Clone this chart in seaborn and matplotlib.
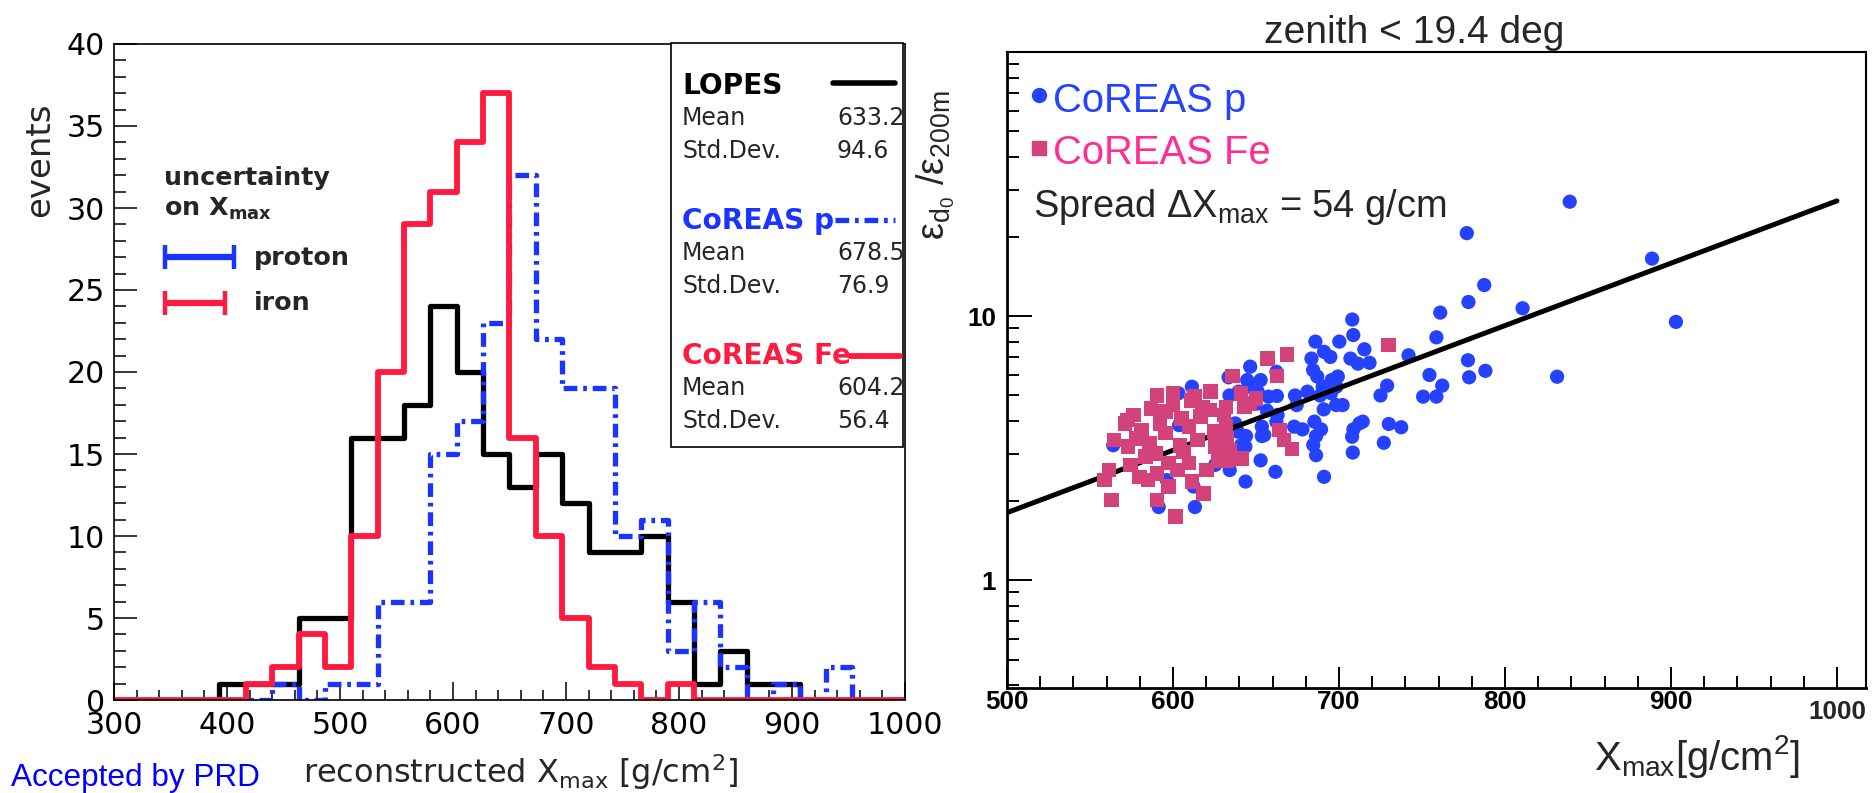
import numpy as np
import pandas as pd
import matplotlib
matplotlib.use("Agg")
import matplotlib.pyplot as plt
from matplotlib.lines import Line2D
from matplotlib.patches import Rectangle
from matplotlib.ticker import MultipleLocator, LogLocator, NullFormatter, FixedLocator
import seaborn as sns

# ---------------------------------------------------------------- data
# reconstructed Xmax histograms: 30 bins between 300 and 1000 g/cm^2
hist_range = (300, 1000)
n_bins = 30
lopes_counts = [0, 0, 0, 0, 1, 1, 1, 5, 5, 16, 16, 18, 24, 20, 15,
                13, 15, 12, 9, 9, 10, 6, 1, 3, 1, 1, 0, 0, 0, 0]
proton_counts = [0, 0, 0, 0, 0, 0, 1, 0, 1, 1, 6, 6, 15, 17, 23,
                 32, 22, 19, 19, 10, 11, 3, 6, 2, 0, 1, 0, 2, 0, 0]
iron_counts = [0, 0, 0, 0, 0, 1, 2, 4, 2, 10, 20, 29, 31, 34, 37,
               16, 10, 5, 2, 1, 0, 1, 0, 0, 0, 0, 0, 0, 0, 0]

stat_names = ["LOPES", "CoREAS p", "CoREAS Fe"]
stat_means = ["633.2", "678.5", "604.2"]
stat_stds = ["94.6", "76.9", "56.4"]

# Xmax uncertainty markers (centre, half width, height in events)
unc_names = ["proton", "iron"]
unc_center = [375.4, 371.5]
unc_halfwidth = [30.4, 26.5]
unc_level = [27.0, 24.2]

# energy-fluence ratio vs Xmax (zenith < 19.4 deg)
p_xmax = [839, 777, 888.6, 787.5, 778, 761, 810.6, 903, 708, 708.6,
          685.8, 700.2, 715.3, 691, 694.8, 741.9, 758.7, 683.4, 706.9, 711.4,
          718.4, 646.5, 777.7, 778.4, 788.2, 831.4, 754.5, 762.2, 729, 725,
          750.7, 758.7, 684.4, 686.9, 662.3, 652.8, 644.7, 633.5, 611.4, 695.6,
          698.4, 681, 688.6, 695.2, 698.3, 702.2, 690.8, 674.5, 662.6, 657.6,
          651, 650, 663, 656.6, 712.3, 708.7, 730, 737.5, 727, 707.9,
          708.3, 673, 678, 685.2, 689.2, 686.2, 684.5, 686.2, 653.5, 644,
          643.6, 639, 603.7, 634, 673.5, 714.3, 691, 661.7, 643.7, 634.2,
          641, 652.8, 637.5, 653.5, 662.3, 613.2, 612.4, 591.4, 596.3, 564,
          625.4, 639.5, 603.3, 655, 699.3, 690.2, 645.4]
p_ratio = [27.1, 20.6, 16.5, 13.1, 11.3, 10.3, 10.7, 9.5, 9.7, 8.47,
           8.0, 8.0, 7.48, 7.32, 7.0, 7.1, 8.3, 6.9, 6.9, 6.6,
           6.65, 6.43, 6.8, 5.86, 6.2, 5.89, 5.98, 5.45, 5.45, 5.0,
           4.95, 4.95, 6.24, 5.9, 6.15, 5.72, 5.72, 5.86, 5.4, 5.72,
           5.4, 5.17, 5.0, 5.1, 4.6, 4.6, 4.43, 4.6, 4.98, 4.95,
           5.17, 4.65, 4.22, 4.38, 3.92, 3.72, 3.9, 3.79, 3.31, 3.49,
           3.04, 3.81, 3.72, 3.98, 3.72, 3.51, 3.25, 2.97, 3.51, 3.51,
           3.2, 3.65, 3.86, 5.0, 5.0, 3.98, 2.46, 2.57, 2.36, 2.61,
           3.24, 2.84, 3.92, 3.81, 3.98, 1.89, 2.26, 1.89, 2.39, 3.24,
           2.73, 5.17, 5.1, 3.54, 5.9, 5.4, 5.4]
fe_xmax = [730, 657, 668.6, 636, 662.6, 590.3, 600, 622.6, 640.9, 612.8,
           650, 610.8, 646, 631.9, 617.8, 586.7, 572.6, 564.5, 664, 667,
           671.7, 624.9, 631.9, 563, 561.5, 558.8, 571, 572.8, 574.5, 583.3,
           585, 590.4, 589.3, 595.6, 597.3, 601.6, 606.2, 609.7, 611.4, 616.6,
           618.4, 622, 625.4, 627, 630.7, 632.4, 634.2, 643, 641.2, 578,
           576.3, 592.1, 595.6, 604.3, 602.6, 590.4, 579.8, 609.7, 614.9, 620.1,
           632.4, 597.3, 581, 600, 605, 586]
fe_ratio = [7.77, 6.92, 7.16, 5.93, 5.93, 5.0, 5.1, 5.17, 5.1, 4.95,
            4.88, 4.78, 4.67, 4.53, 4.53, 4.47, 4.04, 3.39, 3.7, 3.39,
            3.13, 3.65, 3.81, 2.01, 2.61, 2.39, 3.92, 3.2, 2.73, 2.93,
            2.39, 2.01, 3.02, 3.6, 2.77, 1.74, 3.06, 2.77, 2.36, 4.16,
            2.13, 4.4, 3.2, 2.84, 4.22, 3.44, 3.1, 4.53, 2.88, 3.44,
            4.22, 3.92, 4.35, 3.24, 2.61, 2.53, 2.46, 3.81, 3.39, 2.61,
            2.84, 2.26, 3.7, 4.6, 4.1, 3.3]
# exponential fit, evaluated at the ends of the x range
fit_xmax = [500, 1000]
fit_ratio = [1.80, 27.3]

# ---------------------------------------------------------------- style
sns.set_theme(style="white")
plt.rcParams["font.family"] = ["DejaVu Sans"]
plt.rcParams["mathtext.fontset"] = "dejavusans"

W, H = 1872, 793
PT = 0.72  # points per pixel at 100 dpi

BLACK = "#000000"
HBLUE = "#1a33ff"
HRED = "#ff1a40"
SBLUE = "#2442ff"
SPINK = "#d3427a"
TPINK = "#ff2d96"
DASHDOT = (0, (2.6, 1.1, 0.7, 1.1))


def fx(px):
    return px / W


def fy(py):
    return 1 - py / H


fig = plt.figure(figsize=(W / 100, H / 100), dpi=100)
fig.patch.set_facecolor("white")

# ================================================================ left panel
ax1 = fig.add_axes([fx(114), fy(700), (905 - 114) / W, (700 - 44) / H])
edges = np.linspace(hist_range[0], hist_range[1], n_bins + 1)
centers = 0.5 * (edges[:-1] + edges[1:])
hist_df = pd.DataFrame({"xmax": centers, "lopes": lopes_counts,
                        "proton": proton_counts, "iron": iron_counts})

sns.histplot(data=hist_df, x="xmax", weights="lopes", bins=n_bins,
             binrange=hist_range, element="step", fill=False,
             color=BLACK, linewidth=3.8, ax=ax1)
sns.histplot(data=hist_df, x="xmax", weights="proton", bins=n_bins,
             binrange=hist_range, element="step", fill=False,
             color=HBLUE, linewidth=3.8, linestyle=DASHDOT, ax=ax1)
sns.histplot(data=hist_df, x="xmax", weights="iron", bins=n_bins,
             binrange=hist_range, element="step", fill=False,
             color=HRED, linewidth=4.2, ax=ax1)

# Xmax uncertainty bars
for c, hw, lv, col in zip(unc_center, unc_halfwidth, unc_level, [HBLUE, HRED]):
    ax1.errorbar([c], [lv], xerr=[hw], fmt="none", ecolor=col,
                 elinewidth=4.5, capsize=8.6, capthick=3.2)

ax1.set_xlim(*hist_range)
ax1.set_ylim(0, 40)
ax1.set_xlabel("")
ax1.set_ylabel("")
ax1.xaxis.set_major_locator(MultipleLocator(100))
ax1.xaxis.set_minor_locator(MultipleLocator(20))
ax1.yaxis.set_major_locator(MultipleLocator(5))
ax1.yaxis.set_minor_locator(MultipleLocator(1))
ax1.tick_params(which="both", direction="in", top=False, right=False,
                bottom=True, left=True, colors=BLACK)
ax1.tick_params(axis="y", which="major", length=16.5, width=1.1, pad=6.5,
                labelsize=21.6)
ax1.tick_params(axis="y", which="minor", length=8.6, width=1.1)
ax1.tick_params(axis="x", which="major", length=13, width=1.1, pad=8,
                labelsize=21.6)
ax1.tick_params(axis="x", which="minor", length=7.2, width=1.1)
for s in ax1.spines.values():
    s.set_color(BLACK)
    s.set_linewidth(1.2)
    s.set_visible(True)

fig.text(fx(40), fy(160), "events", rotation=90, ha="center", va="center",
         fontsize=34 * PT)
fig.text(fx(520), fy(783), r"reconstructed X$_{\mathregular{max}}$ [g/cm$^{\mathregular{2}}$]",
         ha="center", va="baseline", fontsize=32 * PT)

# uncertainty legend text
fig.text(fx(164), fy(185), "uncertainty", fontsize=25.4 * PT,
         fontweight="bold", va="baseline")
fig.text(fx(164), fy(216), r"on X$_{\mathregular{max}}$", fontsize=25.4 * PT,
         fontweight="bold", va="baseline")
fig.text(fx(253.6), fy(265), unc_names[0], fontsize=25.4 * PT,
         fontweight="bold", va="baseline")
fig.text(fx(253.6), fy(310), unc_names[1], fontsize=25.4 * PT,
         fontweight="bold", va="baseline")

# statistics box
box = Rectangle((fx(671), fy(447)), (903 - 671) / W, (447 - 43) / H,
                transform=fig.transFigure, facecolor="white",
                edgecolor=BLACK, linewidth=1.2, zorder=5)
fig.add_artist(box)

head_base = [94, 229, 364]
head_cols = [BLACK, HBLUE, HRED]
for i in range(3):
    fig.text(fx(682), fy(head_base[i]), stat_names[i], color=head_cols[i],
             fontsize=28 * PT, fontweight="bold", va="baseline", zorder=6)
    fig.text(fx(682), fy(head_base[i] + 31), "Mean", fontsize=23.6 * PT,
             va="baseline", zorder=6)
    fig.text(fx(837), fy(head_base[i] + 31), stat_means[i], fontsize=23.6 * PT,
             va="baseline", zorder=6)
    fig.text(fx(682), fy(head_base[i] + 64), "Std.Dev.", fontsize=23.6 * PT,
             va="baseline", zorder=6)
    fig.text(fx(837), fy(head_base[i] + 64), stat_stds[i], fontsize=23.6 * PT,
             va="baseline", zorder=6)

fig.add_artist(Line2D([fx(833), fx(895)], [fy(83), fy(83)], color=BLACK,
                      linewidth=4, transform=fig.transFigure, zorder=6))
fig.add_artist(Line2D([fx(835), fx(895)], [fy(220), fy(220)], color=HBLUE,
                      linewidth=3.8, linestyle=DASHDOT,
                      transform=fig.transFigure, zorder=6))
fig.add_artist(Line2D([fx(850), fx(900)], [fy(356), fy(356)], color=HRED,
                      linewidth=4.2, transform=fig.transFigure, zorder=6))

fig.text(fx(11), fy(786), "Accepted by PRD", color="#0000ff",
         family=["Liberation Sans", "DejaVu Sans"], fontsize=31.5 * PT,
         va="baseline")

# ================================================================ right panel
RF = ["Liberation Sans", "DejaVu Sans"]
ax2 = fig.add_axes([fx(1007), fy(688), (1866 - 1007) / W, (688 - 52) / H])
ax2.set_yscale("log")

sns.scatterplot(x=p_xmax, y=p_ratio, marker="o", s=105, color=SBLUE,
                edgecolor="none", linewidth=0, ax=ax2, zorder=3)
sns.lineplot(x=fit_xmax, y=fit_ratio, color=BLACK, linewidth=3.6, ax=ax2,
             zorder=4)
sns.scatterplot(x=fe_xmax, y=fe_ratio, marker="s", s=110, color=SPINK,
                edgecolor="none", linewidth=0, ax=ax2, zorder=5)

ax2.set_xlim(500, 1017.5)
ax2.set_ylim(0.39, 100)
ax2.set_xlabel("")
ax2.set_ylabel("")
ax2.xaxis.set_major_locator(FixedLocator([500, 600, 700, 800, 900, 1000]))
ax2.set_xticklabels(["500", "600", "700", "800", "900", ""])
ax2.xaxis.set_minor_locator(MultipleLocator(20))
ax2.yaxis.set_major_locator(FixedLocator([1, 10]))
ax2.set_yticklabels(["1", "10"])
ax2.yaxis.set_minor_locator(LogLocator(base=10, subs=np.arange(2, 10)))
ax2.yaxis.set_minor_formatter(NullFormatter())
ax2.tick_params(which="both", direction="in", top=False, right=False,
                bottom=True, left=True, colors=BLACK)
ax2.tick_params(axis="x", which="major", length=15, width=1.4, pad=1.5)
ax2.tick_params(axis="x", which="minor", length=8.6, width=1.4)
ax2.tick_params(axis="y", which="major", length=18, width=1.4, pad=8)
ax2.tick_params(axis="y", which="minor", length=8.6, width=1.4)
for lab in ax2.get_xticklabels() + ax2.get_yticklabels():
    lab.set_family(RF)
    lab.set_fontweight("bold")
    lab.set_fontsize(26 * PT)
for name, s in ax2.spines.items():
    s.set_color(BLACK)
    s.set_visible(True)
    s.set_linewidth(2.0 if name in ("left", "bottom") else 1.5)

fig.text(fx(1837), fy(712), "1000", ha="center", va="center", family=RF,
         fontweight="bold", fontsize=26 * PT)

fig.text(fx(1414), fy(43), "zenith < 19.4 deg", ha="center", va="baseline",
         family=RF, fontsize=39 * PT)

# legend
ax2.plot([(1038.5 - 1007) / 859], [(688 - 95) / 636], marker="o", ms=10,
         color=SBLUE, transform=ax2.transAxes, clip_on=False, ls="none")
ax2.plot([(1038.5 - 1007) / 859], [(688 - 148) / 636], marker="s", ms=9.8,
         color=SPINK, transform=ax2.transAxes, clip_on=False, ls="none")
fig.text(fx(1053), fy(112), "CoREAS p", color=SBLUE, family=RF,
         fontsize=40 * PT, va="baseline")
fig.text(fx(1053), fy(164), "CoREAS Fe", color=TPINK, family=RF,
         fontsize=40 * PT, va="baseline")
fig.text(fx(1033), fy(217), r"Spread ΔX$_{\mathregular{max}}$ = 54 g/cm",
         family=RF, fontsize=38 * PT, va="baseline")

fig.text(fx(936), fy(165), r"ε$_{\mathregular{d_0}}$ /ε$_{\mathregular{200m}}$",
         rotation=90, ha="center", va="center", family=RF, fontsize=38 * PT)
fig.text(fx(1800), fy(770), r"X$_{\mathregular{max}}$[g/cm$^{\mathregular{2}}$]",
         ha="right", va="baseline", family=RF, fontsize=40 * PT)

fig.savefig("out.png", dpi=100, facecolor="white")
